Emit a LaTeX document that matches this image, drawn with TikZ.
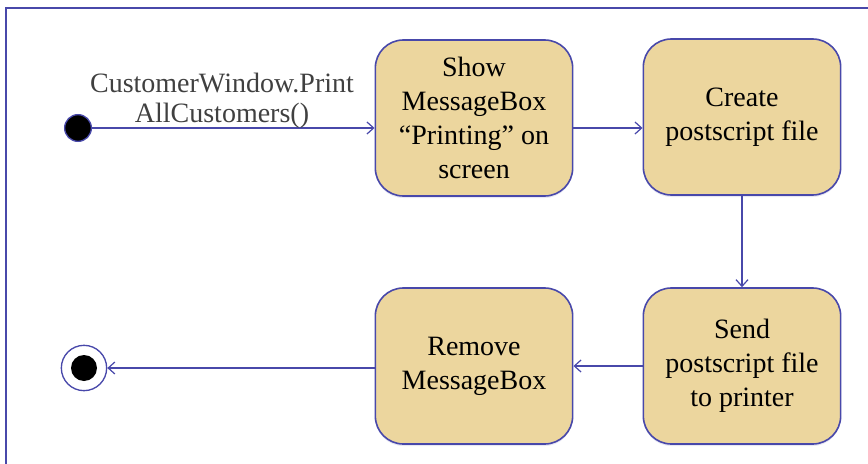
\documentclass[tikz,border=0pt]{standalone}
\usepackage{fontspec}
\setmainfont{Liberation Serif}
\usepackage{xcolor}
\usetikzlibrary{arrows.meta, positioning, shadows}
\definecolor{edgeblue}{RGB}{72,72,170}
\definecolor{parch}{RGB}{236,214,158}

\begin{document}
\begin{tikzpicture}[x=0.75pt,y=-0.75pt,>={Straight Barb[length=5pt,width=9pt]},
  act/.style={draw=edgeblue,line width=1.2pt,fill=parch,rounded corners=21pt,
    minimum width=148pt,minimum height=117pt,align=center,
    font=\fontsize{21}{25.5}\selectfont,
    drop shadow={shadow xshift=0pt,shadow yshift=-1.5pt,fill=edgeblue!25}},
  flow/.style={->,draw=edgeblue,line width=0.9pt}]
  \useasboundingbox (0,0) rectangle (868,464);
  \draw[edgeblue,line width=1.3pt] (6,464)--(6,8)--(868,8);
  % start and end
  \node[circle,fill=black,draw=edgeblue,line width=1pt,minimum size=20pt,inner sep=0pt] (start) at (78,128) {};
  \node[circle,draw=edgeblue,line width=1pt,minimum size=34pt,inner sep=0pt] (fin) at (84,368) {};
  \fill[black] (fin) circle (13);
  % activities
  \node[act] (show) at (474,118) {Show\\MessageBox\\“Printing” on\\screen};
  \node[act] (create) at (742,117) {Create\\postscript file};
  \node[act] (send) at (742,366) {Send\\postscript file\\to printer};
  \node[act] (remove) at (474,366) {Remove\\MessageBox};
  % transitions
  \draw[flow] (start) -- (start -| show.west);
  \node[align=center,text=black!75,font=\fontsize{21}{22.5}\selectfont] (call) at (222,101)
    {CustomerWindow.Print\\AllCustomers()};
  \draw[flow] (show.east |- start) -- (create.west |- start);
  \draw[flow] (create) -- (send);
  \draw[flow] (send) -- (remove);
  \draw[flow] (remove.west |- fin) -- (fin);
\end{tikzpicture}
\end{document}
